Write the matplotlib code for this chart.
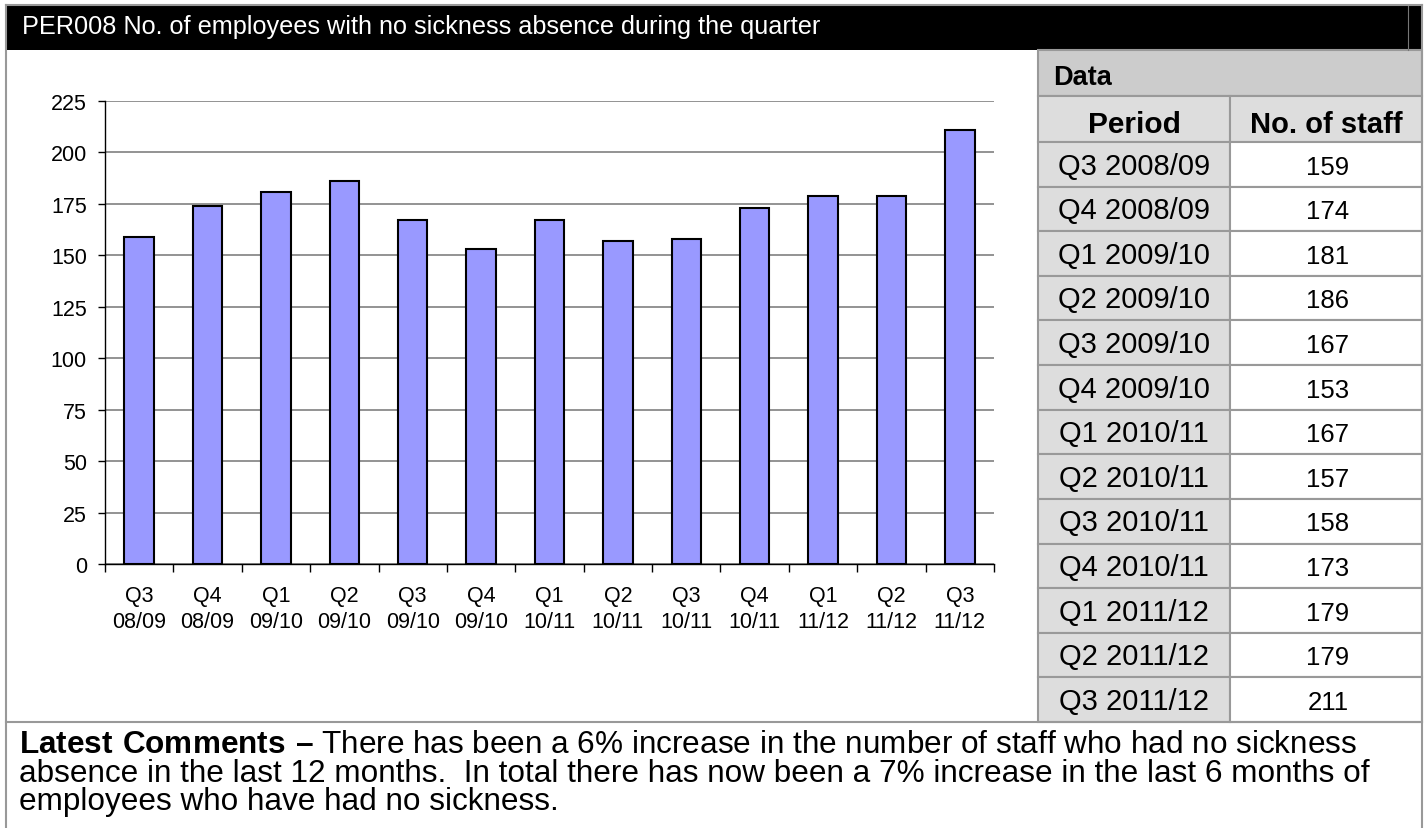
import matplotlib.pyplot as plt
import numpy as np
from matplotlib.patches import Rectangle

plt.rcParams['font.family'] = ['Liberation Sans', 'DejaVu Sans']
plt.rcParams['mathtext.fontset'] = 'custom'
plt.rcParams['mathtext.rm'] = 'Liberation Sans'
plt.rcParams['mathtext.bf'] = 'Liberation Sans:bold'

# data
periods = ["Q3 2008/09", "Q4 2008/09", "Q1 2009/10", "Q2 2009/10", "Q3 2009/10",
           "Q4 2009/10", "Q1 2010/11", "Q2 2010/11", "Q3 2010/11", "Q4 2010/11",
           "Q1 2011/12", "Q2 2011/12", "Q3 2011/12"]
tick_labels = ["Q3\n08/09", "Q4\n08/09", "Q1\n09/10", "Q2\n09/10", "Q3\n09/10",
               "Q4\n09/10", "Q1\n10/11", "Q2\n10/11", "Q3\n10/11", "Q4\n10/11",
               "Q1\n11/12", "Q2\n11/12", "Q3\n11/12"]
staff = [159, 174, 181, 186, 167, 153, 167, 157, 158, 173, 179, 179, 211]

title = "PER008 No. of employees with no sickness absence during the quarter"
comment_bold = r"$\bf{Latest\ Comments\ " + "\u2013" + "}$"
comment_lines = [" There has been a 6% increase in the number of staff who had no sickness",
                 "absence in the last 12 months.  In total there has now been a 7% increase in the last 6 months of",
                 "employees who have had no sickness."]

W, H = 1425, 829
fig = plt.figure(figsize=(W / 100, H / 100), dpi=100)

# overlay axes in pixel coords (y down)
bg = fig.add_axes([0, 0, 1, 1])
bg.set_xlim(0, W)
bg.set_ylim(H, 0)
bg.axis('off')

border = "#999999"
lw = 1.5

# header bar
bg.add_patch(Rectangle((6, 6), 1416, 45, facecolor='black', edgecolor='none'))
bg.plot([1408, 1408], [6, 51], color='#777777', lw=0.8)
bg.text(22, 34, title, color='white', fontsize=18.2, va='baseline', ha='left')

# table
t_left, t_div, t_right = 1038, 1230, 1422
bg.add_patch(Rectangle((t_left, 51), t_right - t_left, 46, facecolor='#cccccc', edgecolor=border, lw=lw))
bg.text(1053, 85, "Data", fontsize=19.5, fontweight='bold', va='baseline')
bg.add_patch(Rectangle((t_left, 97), t_div - t_left, 46, facecolor='#dddddd', edgecolor=border, lw=lw))
bg.add_patch(Rectangle((t_div, 97), t_right - t_div, 46, facecolor='#dddddd', edgecolor=border, lw=lw))
bg.text((t_left + t_div) / 2, 133, "Period", fontsize=21.5, fontweight='bold', ha='center', va='baseline')
bg.text((t_div + t_right) / 2, 133, "No. of staff", fontsize=21, fontweight='bold', ha='center', va='baseline')

row_top, row_bot = 143, 723
rh = (row_bot - row_top) / len(periods)
for i, (p, v) in enumerate(zip(periods, staff)):
    y0 = row_top + i * rh
    bg.add_patch(Rectangle((t_left, y0), t_div - t_left, rh, facecolor='#dddddd', edgecolor=border, lw=lw))
    bg.add_patch(Rectangle((t_div, y0), t_right - t_div, rh, facecolor='white', edgecolor=border, lw=lw))
    bg.text((t_left + t_div) / 2, y0 + 31.5, p, fontsize=21, ha='center', va='baseline')
    bg.text((t_div + t_right) / 2 + 2, y0 + 31.5, str(v), fontsize=18.5, ha='center', va='baseline')

# outer frame and comment separator
bg.plot([6, 6], [6, H], color=border, lw=lw)
bg.plot([t_right, t_right], [6, H], color=border, lw=lw)
bg.plot([6, t_right], [6, 6], color=border, lw=lw)
bg.plot([6, t_right], [723, 723], color=border, lw=lw)

# comments, one text block with the bold lead-in
comment = comment_bold + comment_lines[0] + "\n" + comment_lines[1] + "\n" + comment_lines[2]
bg.text(19, 730, comment, fontsize=22.7, va='top', ha='left', linespacing=0.94)

# bar chart
left, right, top, bottom = 105, 994, 102, 565
ax = fig.add_axes([left / W, (H - bottom) / H, (right - left) / W, (bottom - top) / H])
x = np.arange(len(staff))
ax.bar(x, staff, width=0.43, color='#9999ff', edgecolor='black', linewidth=1.5, zorder=3)
ax.set_xlim(-0.5, len(staff) - 0.5)
ax.set_ylim(0, 225)
ax.set_yticks(np.arange(0, 226, 25))
ax.yaxis.grid(True, color='#808080', linewidth=1.2)
ax.set_axisbelow(True)
ax.tick_params(axis='y', labelsize=15.5, length=5, width=1, pad=8, direction='out')

# ticks between categories, labels in the middle
ax.set_xticks(np.arange(-0.5, len(staff), 1))
ax.set_xticklabels([])
ax.set_xticks(x, minor=True)
ax.set_xticklabels(tick_labels, minor=True, fontsize=15.5, linespacing=1.3)
ax.tick_params(axis='x', which='major', length=6, width=1)
ax.tick_params(axis='x', which='minor', length=0, pad=15)

for s in ['top', 'right']:
    ax.spines[s].set_visible(False)
ax.spines['left'].set_linewidth(1)
ax.spines['bottom'].set_linewidth(1)

fig.savefig("out.png", dpi=100)
